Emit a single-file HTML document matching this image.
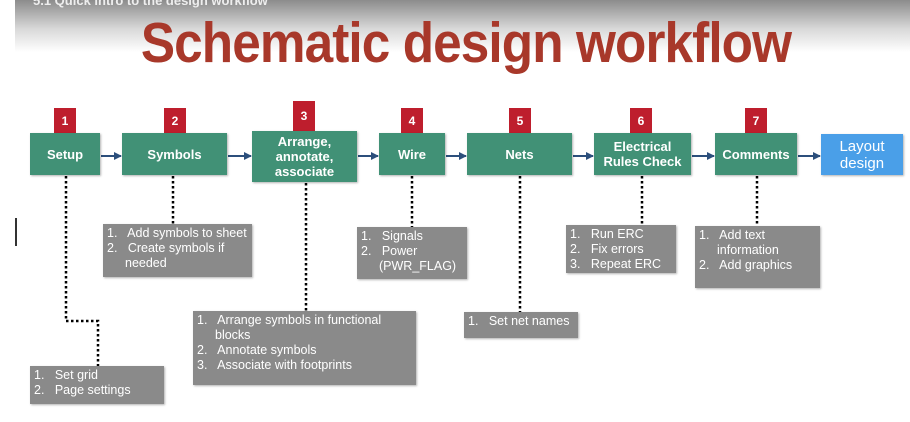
<!DOCTYPE html>
<html><head><style>
body{margin:0;width:910px;height:422px;position:relative;background:#fff;overflow:hidden;font-family:"Liberation Sans",Arial,sans-serif}
.hdr{position:absolute;left:15px;top:0;width:895px;height:52px;background:linear-gradient(#8c8c8c,#d8d8d8 55%,#fff)}
.sub{position:absolute;left:18px;top:-7px;color:#eee;font-size:13px;font-weight:bold}
.title{position:absolute;left:16px;top:10px;width:900px;text-align:center;font-size:57px;font-weight:bold;color:#a8382a;white-space:nowrap;transform:scaleX(0.9);transform-origin:center;letter-spacing:-1px}
.g{position:absolute;background:#419176;color:#fff;font-weight:bold;font-size:13px;display:flex;align-items:center;justify-content:center;text-align:center;line-height:15px;box-shadow:1px 1px 2px rgba(0,0,0,.3)}
.b{position:absolute;background:#be1e2d;color:#fff;font-weight:bold;font-size:12px;display:flex;align-items:center;justify-content:center;width:22px;height:25px}
.n{position:absolute;background:#8a8a8a;color:#fff;font-size:12.5px;line-height:15px;padding:2px 4px;box-sizing:border-box;box-shadow:1px 1px 2px rgba(0,0,0,.3)}
.n div{padding-left:18px;text-indent:-18px}
svg{position:absolute;left:0;top:0}
</style></head><body>
<div class="hdr"><div class="sub">5.1 Quick intro to the design workflow</div></div>
<div class="title">Schematic design workflow</div>
<svg width="910" height="422">
<defs><marker id="a" markerWidth="8" markerHeight="8" refX="7" refY="4" orient="auto" markerUnits="userSpaceOnUse"><path d="M0,0L8,4L0,8z" fill="#2c4f7c"/></marker></defs>
<g stroke="#2c4f7c" stroke-width="2" marker-end="url(#a)">
<line x1="101" y1="156" x2="121" y2="156"/>
<line x1="228" y1="156" x2="251" y2="156"/>
<line x1="358" y1="156" x2="378" y2="156"/>
<line x1="446" y1="156" x2="466" y2="156"/>
<line x1="573" y1="156" x2="593" y2="156"/>
<line x1="692" y1="156" x2="714" y2="156"/>
<line x1="798" y1="156" x2="820" y2="156"/>
</g>
<g stroke="#000" stroke-width="2.5" stroke-dasharray="2.5,2.5" fill="none">
<polyline points="66,176 66,321 98,321 98,366"/>
<line x1="173" y1="176" x2="173" y2="224"/>
<line x1="306" y1="183" x2="306" y2="311"/>
<line x1="412" y1="176" x2="412" y2="227"/>
<line x1="520" y1="176" x2="520" y2="312"/>
<line x1="642" y1="176" x2="642" y2="225"/>
<line x1="757" y1="176" x2="757" y2="226"/>
</g>
<rect x="15" y="218" width="2" height="28" fill="#333"/>
</svg>
<div class="b" style="left:54px;top:108px">1</div>
<div class="b" style="left:164px;top:108px">2</div>
<div class="b" style="left:293px;top:101px;height:30px">3</div>
<div class="b" style="left:401px;top:108px">4</div>
<div class="b" style="left:509px;top:108px">5</div>
<div class="b" style="left:630px;top:108px">6</div>
<div class="b" style="left:745px;top:108px">7</div>
<div class="g" style="left:30px;top:133px;width:70px;height:42px">Setup</div>
<div class="g" style="left:122px;top:133px;width:105px;height:42px">Symbols</div>
<div class="g" style="left:252px;top:131px;width:105px;height:51px">Arrange,<br>annotate,<br>associate</div>
<div class="g" style="left:379px;top:133px;width:66px;height:42px">Wire</div>
<div class="g" style="left:467px;top:133px;width:105px;height:42px">Nets</div>
<div class="g" style="left:594px;top:133px;width:97px;height:42px">Electrical<br>Rules Check</div>
<div class="g" style="left:715px;top:133px;width:82px;height:42px">Comments</div>
<div class="g" style="left:821px;top:134px;width:82px;height:41px;background:#4a9fe8;font-weight:normal;font-size:15px;line-height:17px">Layout<br>design</div>
<div class="n" style="left:30px;top:366px;width:134px;height:38px"><div>1.&nbsp;&nbsp; Set grid</div><div>2.&nbsp;&nbsp; Page settings</div></div>
<div class="n" style="left:103px;top:224px;width:149px;height:53px"><div>1.&nbsp;&nbsp; Add symbols to sheet</div><div>2.&nbsp;&nbsp; Create symbols if needed</div></div>
<div class="n" style="left:193px;top:311px;width:223px;height:74px"><div>1.&nbsp;&nbsp; Arrange symbols in functional blocks</div><div>2.&nbsp;&nbsp; Annotate symbols</div><div>3.&nbsp;&nbsp; Associate with footprints</div></div>
<div class="n" style="left:357px;top:227px;width:110px;height:52px"><div>1.&nbsp;&nbsp; Signals</div><div>2.&nbsp;&nbsp; Power (PWR_FLAG)</div></div>
<div class="n" style="left:464px;top:312px;width:114px;height:26px"><div>1.&nbsp;&nbsp; Set net names</div></div>
<div class="n" style="left:566px;top:225px;width:110px;height:48px"><div>1.&nbsp;&nbsp; Run ERC</div><div>2.&nbsp;&nbsp; Fix errors</div><div>3.&nbsp;&nbsp; Repeat ERC</div></div>
<div class="n" style="left:695px;top:226px;width:125px;height:62px"><div>1.&nbsp;&nbsp; Add text information</div><div>2.&nbsp;&nbsp; Add graphics</div></div>
</body></html>
